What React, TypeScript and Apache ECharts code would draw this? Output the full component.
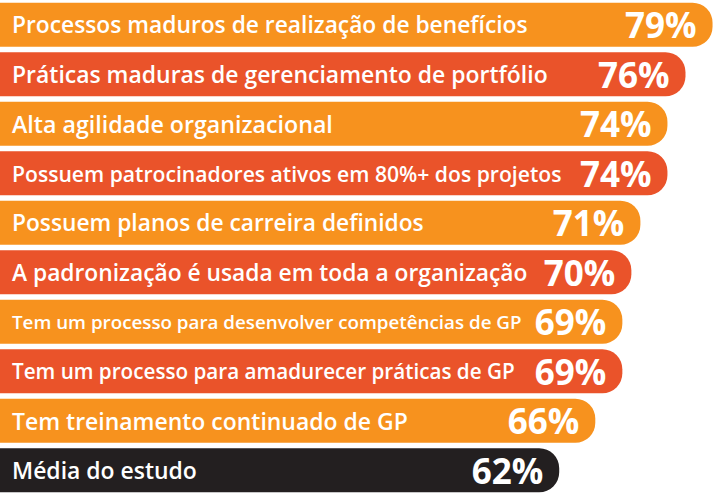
import React, { useEffect, useRef } from "react";
import * as echarts from "echarts";

const categories = [
  "Processos maduros de realização de benefícios",
  "Práticas maduras de gerenciamento de portfólio",
  "Alta agilidade organizacional",
  "Possuem patrocinadores ativos em 80%+ dos projetos",
  "Possuem planos de carreira definidos",
  "A padronização é usada em toda a organização",
  "Tem um processo para desenvolver competências de GP",
  "Tem um processo para amadurecer práticas de GP",
  "Tem treinamento continuado de GP",
  "Média do estudo",
];
const values = [79, 76, 74, 74, 71, 70, 69, 69, 66, 62];

// layout: target rendered width of each category label (px)
const labelWidths = [516, 536, 321, 550, 412, 516, 510, 503, 396, 185];
const barColors = [
  "#F7921E", "#EA532A", "#F7921E", "#EA532A", "#F7921E",
  "#EA532A", "#F7921E", "#EA532A", "#F7921E", "#231F20",
];
const FONT = '"Open Sans", "Noto Sans", sans-serif';

export default function App() {
  const ref = useRef<HTMLDivElement>(null);
  useEffect(() => {
    if (!ref.current) return;
    const chart = echarts.init(ref.current, undefined, { renderer: "svg" });
    const ctx = document.createElement("canvas").getContext("2d")!;
    ctx.font = `600 20px ${FONT}`;
    const sizes = categories.map((c, i) => {
      const w = ctx.measureText(c).width;
      return Math.min(24, (20 * labelWidths[i]) / w);
    });
    chart.setOption({
      animation: false,
      backgroundColor: "#ffffff",
      grid: { left: 0, right: 0, top: -2, bottom: -2, containLabel: false },
      xAxis: { type: "value", min: 0, max: 79.05, show: false },
      yAxis: {
        type: "category",
        data: categories,
        inverse: true,
        show: false,
      },
      series: [
        {
          type: "bar",
          barWidth: 44,
          data: values.map((v, i) => ({
            value: v,
            itemStyle: { color: barColors[i], borderRadius: [0, 20, 20, 0] },
          })),
          label: {
            show: true,
            position: "insideRight",
            distance: 16,
            formatter: "{c}%",
            color: "#ffffff",
            fontSize: 35,
            fontWeight: "bold",
            fontFamily: FONT,
          },
          z: 2,
        },
        {
          type: "bar",
          barWidth: 44,
          barGap: "-100%",
          silent: true,
          data: values.map((v, i) => ({
            value: v,
            label: { fontSize: sizes[i] },
          })),
          itemStyle: { color: "rgba(0,0,0,0)" },
          label: {
            show: true,
            position: "insideLeft",
            distance: 12,
            formatter: (p: any) => categories[p.dataIndex],
            color: "#ffffff",
            fontWeight: 600,
            fontFamily: FONT,
          },
          z: 3,
        },
      ],
    });
    return () => chart.dispose();
  }, []);
  return (
    <div
      ref={ref}
      style={{ position: "absolute", left: 0, top: 0, width: 713, height: 495 }}
    />
  );
}
